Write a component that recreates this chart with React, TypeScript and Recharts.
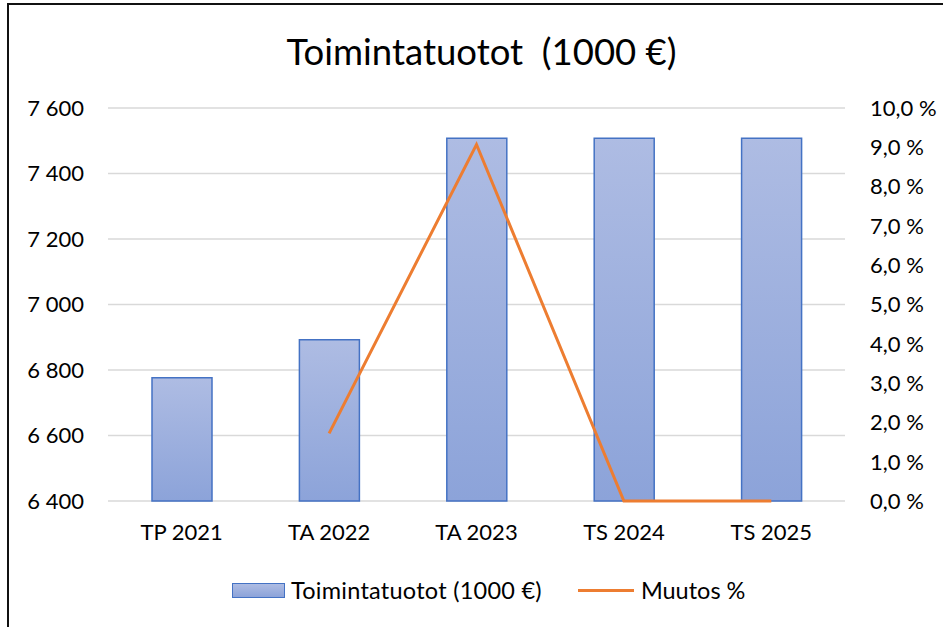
import React from 'react'
import {
  ComposedChart, Bar, Line, XAxis, YAxis, CartesianGrid, Legend,
} from 'recharts'

const categories = ['TP 2021', 'TA 2022', 'TA 2023', 'TS 2024', 'TS 2025']
const revenue = [6776, 6892, 7508, 7508, 7508]
const changePct = [null, 1.72, 9.07, 0, 0]

const leftTicks = [6400, 6600, 6800, 7000, 7200, 7400, 7600]
const rightTicks = [0, 1, 2, 3, 4, 5, 6, 7, 8, 9, 10]

const data = categories.map((name, i) => ({
  name,
  revenue: revenue[i],
  change: changePct[i],
}))

const FONT = 'Lato, "Open Sans", sans-serif'
const tickStyle = { fontFamily: FONT, fontSize: 22, fill: '#000' }

const fmtThousands = (v: number) => String(v).replace(/\B(?=(\d{3})+(?!\d))/g, ' ')
const fmtPct = (v: number) => v.toFixed(1).replace('.', ',') + ' %'

const renderLegend = () => (
  <div style={{ display: 'flex', alignItems: 'center', paddingLeft: 232, fontFamily: FONT, fontSize: 23.5, color: '#000', height: 24 }}>
    <span style={{ display: 'inline-block', width: 51, height: 13, border: '1.5px solid #4472c4', background: 'linear-gradient(#aebce3, #8ca3d9)', marginRight: 6 }} />
    <span style={{ marginRight: 36, letterSpacing: 0.25 }}>Toimintatuotot (1000 €)</span>
    <span style={{ display: 'inline-block', width: 56, height: 3, background: '#ed7d31', marginRight: 7 }} />
    <span>Muutos %</span>
  </div>
)

export default function App() {
  return (
    <div style={{ position: 'absolute', left: 0, top: 0, width: 943, height: 627, overflow: 'hidden', background: '#fff' }}>
      <div style={{ position: 'absolute', left: 7, top: 3, width: 1000, height: 700, borderLeft: '2px solid #111', borderTop: '2px solid #111' }} />
      <div style={{ position: 'absolute', left: 0, top: 0, width: 963, textAlign: 'center', fontFamily: FONT, fontSize: 36.5, lineHeight: '40px', paddingTop: 31, color: '#000' }}>
        Toimintatuotot&nbsp;&nbsp;(1000 €)
      </div>
      <ComposedChart
        width={943}
        height={627}
        data={data}
        margin={{ top: 108, right: 0, left: 0, bottom: 62 }}
        style={{ position: 'absolute', left: 0, top: 0 }}
      >
        <defs>
          <linearGradient id="barGrad" x1="0" y1="0" x2="0" y2="1">
            <stop offset="0%" stopColor="#aebce3" />
            <stop offset="100%" stopColor="#8ca3d9" />
          </linearGradient>
        </defs>
        <CartesianGrid vertical={false} stroke="#d9d9d9" strokeWidth={1.5} yAxisId="left" />
        <XAxis dataKey="name" axisLine={false} tickLine={false} tickSize={0} tickMargin={23} height={40} tick={tickStyle} interval={0} />
        <YAxis yAxisId="left" domain={[6400, 7600]} ticks={leftTicks} width={108} axisLine={false} tickLine={false} tickSize={0} tickMargin={24}
          tick={tickStyle} tickFormatter={fmtThousands} />
        <YAxis yAxisId="right" orientation="right" domain={[0, 10]} ticks={rightTicks} width={98} axisLine={false} tickLine={false} tickSize={0} tickMargin={25}
          tick={tickStyle} tickFormatter={fmtPct} />
        <Legend verticalAlign="bottom" height={24} content={renderLegend} wrapperStyle={{ top: 578, bottom: 'auto', left: 0, width: 943 }} />
        <Bar yAxisId="left" dataKey="revenue" barSize={60} fill="url(#barGrad)" stroke="#4472c4" strokeWidth={1.5} isAnimationActive={false} />
        <Line yAxisId="right" dataKey="change" stroke="#ed7d31" strokeWidth={3} dot={false} type="linear" isAnimationActive={false} />
      </ComposedChart>
    </div>
  )
}
